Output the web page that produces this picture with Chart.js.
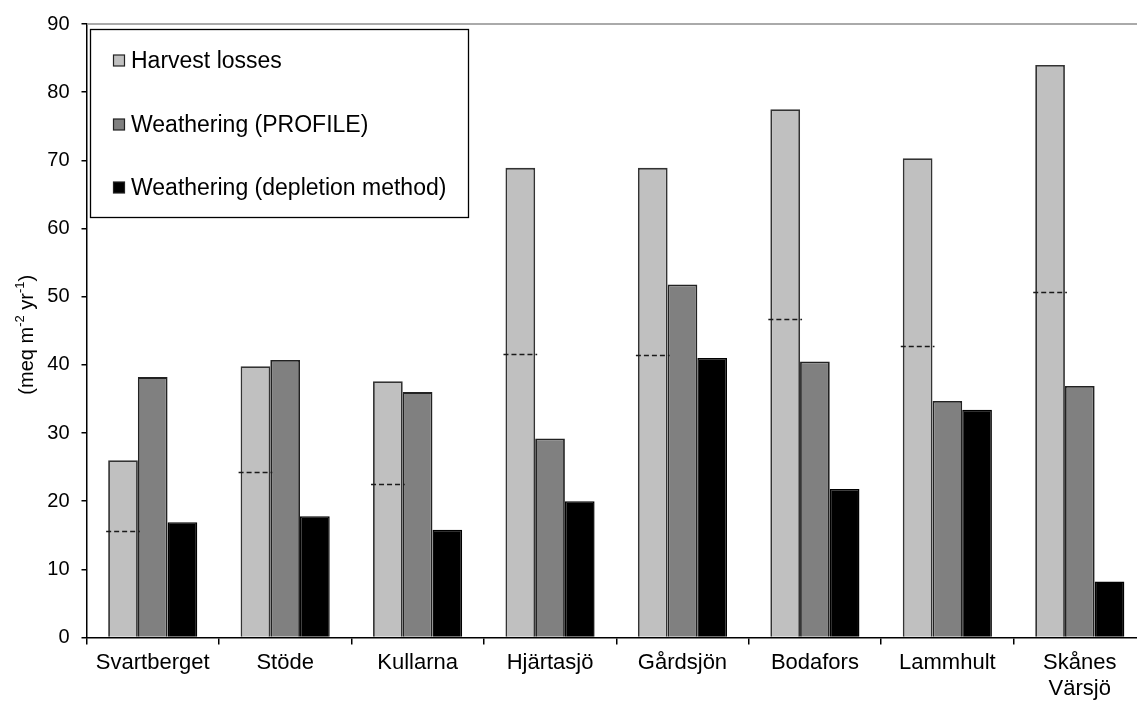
<!DOCTYPE html>
<html><head><meta charset="utf-8">
<script src="https://cdn.jsdelivr.net/npm/chart.js@4"></script>
<style>html,body{margin:0;padding:0;background:#fff;overflow:hidden}canvas{display:block}</style>
</head><body>
<div style="width:1146px;height:704px"><canvas id="c" width="1146" height="704"></canvas></div>
<script>
const categories = ['Svartberget', 'Stöde', 'Kullarna', 'Hjärtasjö', 'Gårdsjön', 'Bodafors', 'Lammhult', ['Skånes', 'Värsjö']];
const harvestLosses = [26.0, 39.8, 37.6, 68.9, 68.9, 77.5, 70.3, 84.0];
const harvestDashed = [15.6, 24.3, 22.5, 41.6, 41.4, 46.7, 42.7, 50.7];
const weatheringProfile = [38.2, 40.7, 36.0, 29.2, 51.8, 40.5, 34.7, 36.9];
const weatheringDepletion = [16.9, 17.8, 15.8, 20.0, 41.0, 21.8, 33.4, 8.2];
const seriesNames = ['Harvest losses', 'Weathering (PROFILE)', 'Weathering (depletion method)'];
const yMin = 0, yMax = 90, yStep = 10;
const titleParts = [['(meq m', false], ['-2', true], [' yr', false], ['-1', true], [')', false]];

const FONT = '"Liberation Sans", Arial, sans-serif';

const extras = {
  id: 'extras',
  afterDatasetsDraw(chart) {
    const ctx = chart.ctx, ys = chart.scales.y, meta = chart.getDatasetMeta(0);
    ctx.save();
    ctx.strokeStyle = '#1a1a1a';
    ctx.lineWidth = 1.6;
    ctx.setLineDash([5, 3]);
    harvestDashed.forEach((v, i) => {
      const b = meta.data[i];
      const y = Math.round(ys.getPixelForValue(v)) + 0.5;
      ctx.beginPath();
      ctx.moveTo(b.x - b.width / 2 - 2, y);
      ctx.lineTo(b.x + b.width / 2 + 2, y);
      ctx.stroke();
    });
    ctx.restore();
  },
  afterDraw(chart) {
    const ctx = chart.ctx, a = chart.chartArea;
    ctx.save();
    // top plot border
    ctx.strokeStyle = '#aaaaaa';
    ctx.lineWidth = 2;
    ctx.beginPath();
    ctx.moveTo(a.left + 1, a.top);
    ctx.lineTo(a.right, a.top);
    ctx.stroke();
    // legend box
    ctx.fillStyle = '#fff';
    ctx.fillRect(90.5, 29.5, 378, 188);
    ctx.strokeStyle = '#000';
    ctx.lineWidth = 1.3;
    ctx.strokeRect(90.5, 29.5, 378, 188);
    const rows = [60.5, 124.5, 187.5];
    ctx.font = '23px ' + FONT;
    ctx.textBaseline = 'middle';
    chart.data.datasets.forEach((ds, i) => {
      const cy = rows[i];
      ctx.fillStyle = ds.backgroundColor;
      ctx.fillRect(113.5, cy - 5.5, 11, 11);
      ctx.strokeStyle = '#222';
      ctx.lineWidth = 1.2;
      ctx.strokeRect(113.5, cy - 5.5, 11, 11);
      ctx.fillStyle = '#000';
      ctx.fillText(ds.label, 131, cy + 1);
    });
    // y axis title with superscripts
    const big = '20px ' + FONT, small = '13px ' + FONT;
    let total = 0;
    titleParts.forEach(([t, sup]) => { ctx.font = sup ? small : big; total += ctx.measureText(t).width; });
    ctx.translate(27, (a.top + a.bottom) / 2 + 4);
    ctx.rotate(-Math.PI / 2);
    ctx.textBaseline = 'middle';
    ctx.fillStyle = '#000';
    let x = -total / 2;
    titleParts.forEach(([t, sup]) => {
      ctx.font = sup ? small : big;
      ctx.fillText(t, x, sup ? -7 : 0);
      x += ctx.measureText(t).width;
    });
    ctx.restore();
  }
};

new Chart(document.getElementById('c'), {
  type: 'bar',
  data: {
    labels: categories,
    datasets: [
      { label: seriesNames[0], data: harvestLosses, backgroundColor: '#c0c0c0', borderColor: '#333333', borderWidth: 1.8 },
      { label: seriesNames[1], data: weatheringProfile, backgroundColor: '#808080', borderColor: '#222222', borderWidth: 1.8 },
      { label: seriesNames[2], data: weatheringDepletion, backgroundColor: '#000000', borderColor: '#000000', borderWidth: 1.5 }
    ]
  },
  options: {
    responsive: false,
    animation: false,
    devicePixelRatio: 1,
    categoryPercentage: 0.673,
    barPercentage: 1,
    layout: { padding: { top: 22, left: 0, right: 0, bottom: 0 } },
    plugins: { legend: { display: false }, tooltip: { enabled: false } },
    scales: {
      x: {
        grid: { offset: true, drawOnChartArea: false, drawTicks: true, tickLength: 7, color: '#000', lineWidth: 1.5 },
        border: { display: true, color: '#000', width: 1.5 },
        ticks: { color: '#000', font: { family: FONT, size: 22, lineHeight: 1.15 }, padding: 6, maxRotation: 0, autoSkip: false },
        afterFit(s) { s.height = 66.5; }
      },
      y: {
        min: yMin, max: yMax,
        grid: { drawOnChartArea: false, drawTicks: true, tickLength: 5, color: '#000', lineWidth: 1.5 },
        border: { display: true, color: '#000', width: 1.5 },
        ticks: { stepSize: yStep, color: '#000', font: { family: FONT, size: 20 }, padding: 12 },
        afterFit(s) { s.width = 86.5; }
      }
    }
  },
  plugins: [extras]
});
</script>
</body></html>
